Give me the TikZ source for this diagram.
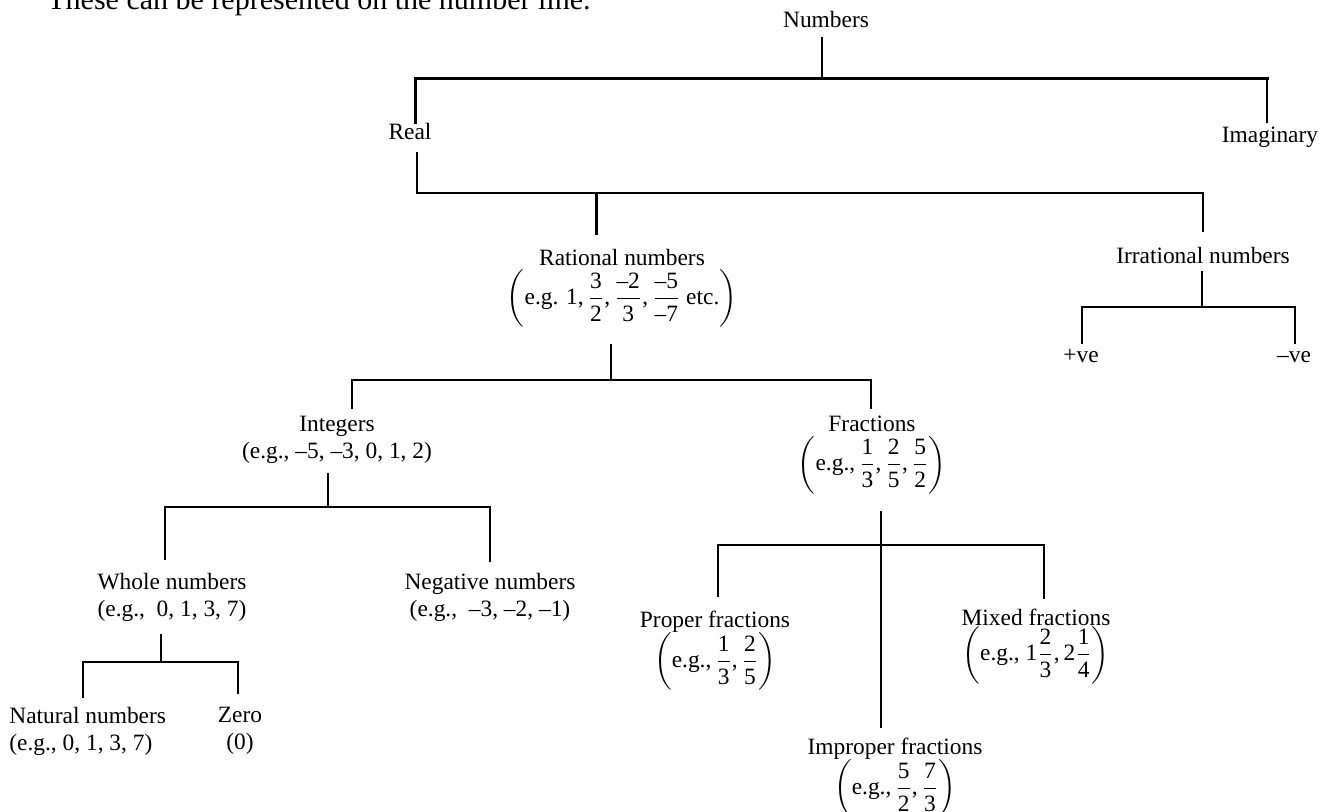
\documentclass[tikz,border=0pt]{standalone}
\usepackage{amsmath}
\usepackage{fontspec}
\setmainfont{Liberation Serif}
\newcommand{\tfr}[2]{\dfrac{\text{#1}}{\text{#2}}}
\begin{document}
\begin{tikzpicture}[x=0.5pt,y=-0.5pt,
  lbl/.style={inner sep=0pt, align=center, anchor=base, font=\fontsize{11.7}{13.5}\selectfont},
  lbl2/.style={lbl, anchor=north},
  conn/.style={line width=0.9pt, line cap=rect},
  heavy/.style={line width=1.5pt, line cap=rect}]
\useasboundingbox (0,0) rectangle (1328,811);
\clip (0,0) rectangle (1328,811);
\fill[white] (0,0) rectangle (1328,811);

% header (cut off at the top)
\node[inner sep=0pt, anchor=base west, font=\fontsize{15}{16}\selectfont] (head) at (47,9) {These can be represented on the number line.};

% labels
\node[lbl] (num) at (826,27) {Numbers};
\node[lbl] (real) at (410,139) {Real};
\node[lbl] (imag) at (1270,142) {Imaginary};
\node[lbl2] (rat) at (622,249) {Rational numbers\\[1pt] $\left(\text{e.g. 1,}\,\tfr{3}{2}\text{,}\,\tfr{–2}{3}\text{,}\,\tfr{–5}{–7}\text{ etc.}\right)$};
\node[lbl] (irr) at (1203,263) {Irrational numbers};
\node[lbl] (pos) at (1081,362) {+ve};
\node[lbl] (neg) at (1294,362) {–ve};
\node[lbl2] (int) at (337,416) {Integers\\(e.g., –5, –3, 0, 1, 2)};
\node[lbl2] (frac) at (872,416) {Fractions\\[1pt] $\left(\text{e.g.,}\,\tfr{1}{3}\text{,}\,\tfr{2}{5}\text{,}\,\tfr{5}{2}\right)$};
\node[lbl2] (whole) at (172,573) {Whole numbers\\(e.g.,\ \ 0, 1, 3, 7)};
\node[lbl2] (negn) at (490,573) {Negative numbers\\(e.g.,\ \ –3, –2, –1)};
\node[lbl2] (prop) at (715,611) {Proper fractions\\[-1pt] $\left(\text{e.g.,}\,\tfr{1}{3}\text{,}\,\tfr{2}{5}\right)$};
\node[lbl2] (mixed) at (1036,609) {Mixed fractions\\[-1pt] $\left(\text{e.g., 1}\tfr{2}{3}\text{,}\,\text{2}\tfr{1}{4}\right)$};
\node[lbl2, align=left, anchor=north west] (nat) at (9,707) {Natural numbers\\(e.g., 0, 1, 3, 7)};
\node[lbl2] (zero) at (240,707) {Zero\\(0)};
\node[lbl2] (impr) at (895,738) {Improper fractions\\[-1pt] $\left(\text{e.g.,}\,\tfr{5}{2}\text{,}\,\tfr{7}{3}\right)$};

% junction coordinates
\coordinate (n1) at (822,38);   \coordinate (n2) at (822,78);
\coordinate (b1l) at (415,78);  \coordinate (b1r) at (1267,78);
\coordinate (realt) at (415,122); \coordinate (imagt) at (1267,122);
\coordinate (r1) at (417,153);  \coordinate (r2) at (417,193);
\coordinate (b2r) at (1203,193); \coordinate (irrt) at (1203,231);
\coordinate (b2m) at (596,193);  \coordinate (ratt) at (596,233);
\coordinate (q1) at (611,345);  \coordinate (q2) at (611,380);
\coordinate (b3l) at (352,380); \coordinate (b3r) at (871,380);
\coordinate (intt) at (352,408); \coordinate (fract) at (871,408);
\coordinate (i1) at (1202,272); \coordinate (i2) at (1202,307);
\coordinate (b4l) at (1082,307); \coordinate (b4r) at (1295,307);
\coordinate (post) at (1082,343); \coordinate (negt) at (1295,343);
\coordinate (g1) at (328,474);  \coordinate (g2) at (328,507);
\coordinate (b5l) at (165,507); \coordinate (b5r) at (490,507);
\coordinate (wholet) at (165,559); \coordinate (negnt) at (490,561);
\coordinate (w1) at (161,635);  \coordinate (w2) at (161,662);
\coordinate (b6l) at (83,662);  \coordinate (b6r) at (238,662);
\coordinate (natt) at (83,697); \coordinate (zerot) at (238,693);
\coordinate (f1) at (881,512);  \coordinate (imprt) at (881,727);
\coordinate (b7l) at (718,545); \coordinate (b7r) at (1044,545);
\coordinate (propt) at (718,596); \coordinate (mixedt) at (1044,598);

% connectors
\draw[conn] (n1) -- (n2);
\draw[heavy] (b1l) -- (b1r);
\draw[heavy] (b1l) -- (realt);
\draw[conn] (b1r) -- (imagt);
\draw[conn] (r1) -- (r2) -- (b2r) -- (irrt);
\draw[heavy] (b2m) -- (ratt);
\draw[conn] (q1) -- (q2);
\draw[conn] (intt) -- (b3l) -- (b3r) -- (fract);
\draw[conn] (i1) -- (i2);
\draw[conn] (post) -- (b4l) -- (b4r) -- (negt);
\draw[conn] (g1) -- (g2);
\draw[conn] (wholet) -- (b5l) -- (b5r) -- (negnt);
\draw[conn] (w1) -- (w2);
\draw[conn] (natt) -- (b6l) -- (b6r) -- (zerot);
\draw[conn] (f1) -- (imprt);
\draw[conn] (propt) -- (b7l) -- (b7r) -- (mixedt);
\end{tikzpicture}
\end{document}
